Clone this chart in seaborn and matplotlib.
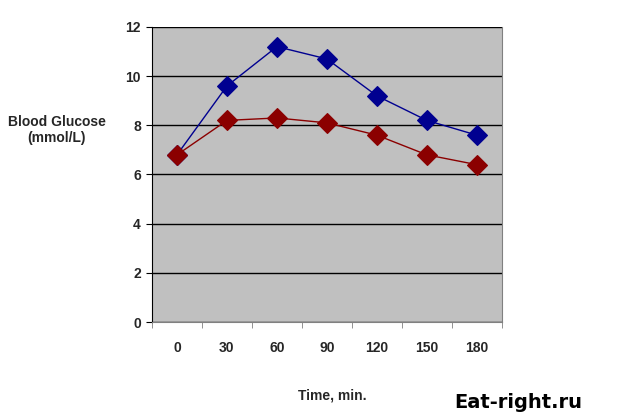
import pandas as pd
import matplotlib
matplotlib.use("Agg")
import matplotlib.pyplot as plt
import seaborn as sns
from matplotlib.ticker import FixedLocator

# Data
times = ["0", "30", "60", "90", "120", "150", "180"]
series_high = [6.8, 9.6, 11.2, 10.7, 9.2, 8.2, 7.6]
series_low = [6.8, 8.2, 8.3, 8.1, 7.6, 6.8, 6.4]

df = pd.DataFrame({"time": times * 2,
                   "glucose": series_high + series_low,
                   "group": ["high"] * len(times) + ["low"] * len(times)})

sns.set_style("white")
plt.rcParams['font.family'] = ['Liberation Sans', 'DejaVu Sans']

fig = plt.figure(figsize=(6.4, 4.19), dpi=100)
ax = fig.add_axes([0.2375, 0.2315, 0.5465, 0.7041])
ax.set_facecolor("#c0c0c0")

sns.lineplot(data=df, x="time", y="glucose", hue="group",
             palette={"high": "#000090", "low": "#8b0000"},
             marker="D", markersize=10,
             linewidth=1, ax=ax, legend=False, zorder=3)
for line in ax.lines:
    line.set_markeredgecolor(line.get_color())
    line.set_markeredgewidth(0.8)

ax.set_xlim(-0.5, 6.5)
ax.set_ylim(0, 12)
ax.set_yticks([0, 2, 4, 6, 8, 10, 12])
ax.yaxis.grid(True, color="black", linewidth=1)
ax.set_axisbelow(True)

# ticks sit between categories, labels centred under them
ax.set_xticks(range(len(times)))
ax.set_xticklabels(times)
ax.xaxis.set_minor_locator(FixedLocator([i - 0.5 for i in range(len(times) + 1)]))
ax.tick_params(axis="x", which="major", length=0, pad=14)
ax.tick_params(axis="x", which="minor", length=4, color="#808080", direction="out", bottom=True)
ax.tick_params(axis="y", length=4, color="black", direction="out", left=True, pad=4)
for lab in ax.get_xticklabels() + ax.get_yticklabels():
    lab.set_fontsize(10)
    lab.set_fontweight("bold")

ax.spines["left"].set_color("black")
for side in ["right", "bottom"]:
    ax.spines[side].set_color("#808080")
ax.spines["top"].set_visible(False)

ax.set_xlabel("")
ax.set_ylabel("")
fig.text(0.089, 0.69, "Blood Glucose\n(mmol/L)", ha="center", va="center",
         fontsize=10, fontweight="bold", linespacing=1.2)
fig.text(0.52, 0.057, "Time, min.", ha="center", va="center",
         fontsize=10, fontweight="bold")
fig.text(0.81, 0.04, "Eat-right.ru", ha="center", va="center",
         fontsize=14, fontweight="bold", color="black",
         family=["DejaVu Sans"])

fig.savefig("out.png", dpi=100)
